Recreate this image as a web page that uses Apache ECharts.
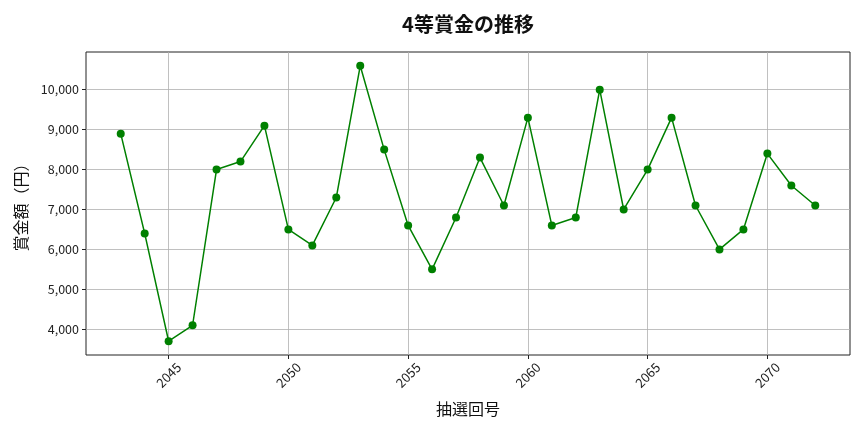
<!DOCTYPE html>
<html>
<head>
<meta charset="utf-8">
<script src="https://cdn.jsdelivr.net/npm/echarts@6/dist/echarts.min.js"></script>
<style>
  html, body { margin: 0; padding: 0; background: #fff; }
  #chart { width: 864px; height: 432px; }
</style>
</head>
<body>
<div id="chart"></div>
<script>
var rounds = [2043, 2044, 2045, 2046, 2047, 2048, 2049, 2050, 2051, 2052,
              2053, 2054, 2055, 2056, 2057, 2058, 2059, 2060, 2061, 2062,
              2063, 2064, 2065, 2066, 2067, 2068, 2069, 2070, 2071, 2072];
var prizes = [8900, 6400, 3700, 4100, 8000, 8200, 9100, 6500, 6100, 7300,
              10600, 8500, 6600, 5500, 6800, 8300, 7100, 9300, 6600, 6800,
              10000, 7000, 8000, 9300, 7100, 6000, 6500, 8400, 7600, 7100];
var xTicks = [2045, 2050, 2055, 2060, 2065, 2070];
var yTicks = [4000, 5000, 6000, 7000, 8000, 9000, 10000];

var font = '"Noto Sans CJK JP", "Noto Sans", sans-serif';

// matplotlib風の余白（5%）
var xPad = (rounds[rounds.length - 1] - rounds[0]) * 0.05;
var yMinV = Math.min.apply(null, prizes), yMaxV = Math.max.apply(null, prizes);
var yPad = (yMaxV - yMinV) * 0.05;

var points = rounds.map(function (r, i) { return [r, prizes[i]]; });

var gridLines = [];
xTicks.forEach(function (v) { gridLines.push({ xAxis: v }); });
yTicks.forEach(function (v) { gridLines.push({ yAxis: v }); });

var chart = echarts.init(document.getElementById('chart'));
var option = {
    animation: false,
    backgroundColor: '#fff',
    title: {
        text: '4等賞金の推移',
        left: 463,
        top: 9,
        textAlign: 'center',
        textStyle: { fontFamily: font, fontSize: 20, fontWeight: 'bold', color: '#111' }
    },
    grid: {
        left: 86, right: 14, top: 52, bottom: 77,
        show: true, borderColor: '#222', borderWidth: 1, backgroundColor: 'transparent'
    },
    xAxis: {
        type: 'value',
        min: rounds[0] - xPad,
        max: rounds[rounds.length - 1] + xPad,
        name: '抽選回号',
        nameLocation: 'middle',
        nameGap: 46,
        nameTextStyle: { fontFamily: font, fontSize: 16, color: '#111' },
        axisLine: { show: false },
        axisTick: { show: true, length: 4, customValues: xTicks, lineStyle: { color: '#222' } },
        axisLabel: {
            customValues: xTicks, rotate: 45, margin: 20,
            align: 'center', verticalAlign: 'middle',
            fontFamily: font, fontSize: 13, color: '#222',
            formatter: function (v) { return String(v); }
        },
        splitLine: { show: false }
    },
    yAxis: {
        type: 'value',
        min: yMinV - yPad,
        max: yMaxV + yPad,
        name: '賞金額（円）',
        nameLocation: 'middle',
        nameGap: 57,
        nameTextStyle: { fontFamily: font, fontSize: 16, color: '#111' },
        axisLine: { show: false },
        axisTick: { show: true, length: 4, customValues: yTicks, lineStyle: { color: '#222' } },
        axisLabel: {
            customValues: yTicks, margin: 7,
            fontFamily: font, fontSize: 12.5, color: '#222',
            formatter: function (v) { return v.toLocaleString('en-US'); }
        },
        splitLine: { show: false }
    },
    series: [
        {
            type: 'line',
            data: points,
            symbol: 'circle',
            symbolSize: 8,
            itemStyle: { color: '#008000' },
            lineStyle: { color: '#008000', width: 1.5 },
            z: 3,
            markLine: {
                silent: true,
                symbol: 'none',
                label: { show: false },
                lineStyle: { color: '#b0b0b0', width: 0.8, type: 'solid' },
                data: gridLines,
                z: 1
            }
        }
    ]
};
chart.setOption(option);
</script>
</body>
</html>
